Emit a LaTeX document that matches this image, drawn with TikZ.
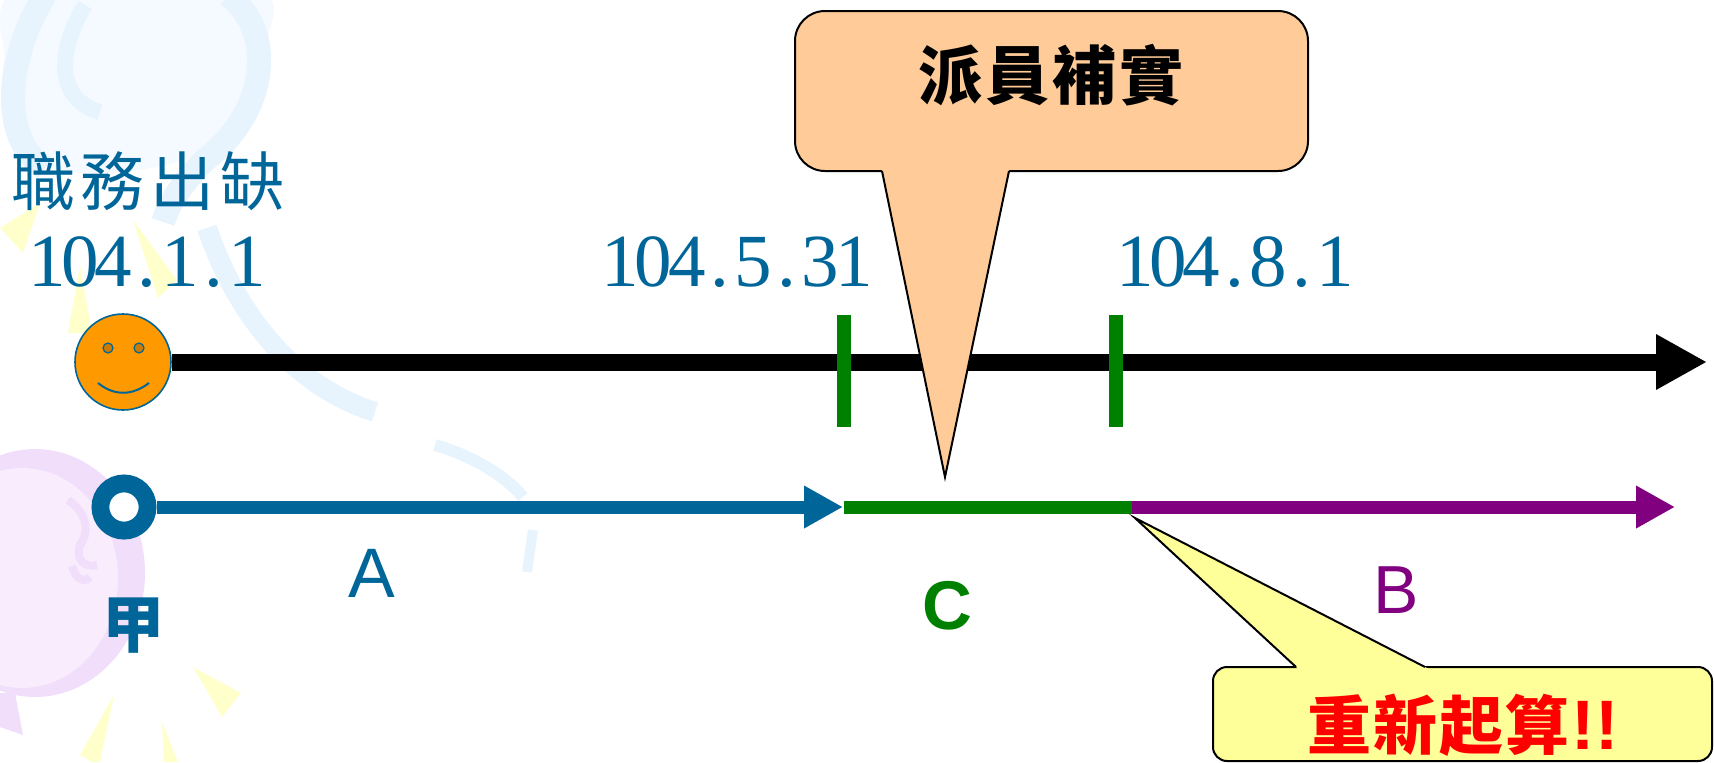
\documentclass[tikz,border=0pt]{standalone}
\usepackage{fontspec}
\setmainfont{Liberation Serif}
\newfontfamily\cjkfont{Noto Sans CJK TC}
\newfontfamily\latinsans{Liberation Sans}
\usetikzlibrary{arrows.meta}

\definecolor{dateblue}{RGB}{0,102,153}
\definecolor{tickgreen}{RGB}{0,128,0}
\definecolor{spanpurple}{RGB}{128,0,128}
\definecolor{smileorange}{RGB}{255,153,0}
\definecolor{eyeorange}{RGB}{204,122,0}
\definecolor{peach}{RGB}{255,204,153}
\definecolor{noteyellow}{RGB}{255,255,153}
\definecolor{bandblue}{RGB}{232,244,253}
\definecolor{faintblue}{RGB}{244,250,255}
\definecolor{lavender}{RGB}{241,222,251}
\definecolor{palelavender}{RGB}{248,236,253}
\definecolor{paleyellow}{RGB}{255,255,204}

% each character of a date in a box of the same width
\newcommand\evenpitch[1]{\evenpitchloop#1\relax}
\def\evenpitchloop#1{\ifx\relax#1\else\makebox[16.7pt]{#1}\expandafter\evenpitchloop\fi}

\tikzset{
  datelabel/.style={font=\fontsize{37.5pt}{40pt}\selectfont, text=dateblue, inner sep=0},
  cjkbold/.style={font=\cjkfont\bfseries\fontsize{32pt}{36pt}\selectfont, inner sep=0},
  spanlabel/.style={font=\latinsans\fontsize{35pt}{38pt}\selectfont, inner sep=0},
  timeline/.style={line width=6.5pt},
  tickmark/.style={tickgreen, line width=7pt},
  smalltip/.style={-{Triangle[length=19.5pt,width=20pt]}},
  bigtip/.style={-{Triangle[length=25.5pt,width=26pt]}},
  callout/.style={draw=black, line width=1pt},
}

\begin{document}
\begin{tikzpicture}[x=0.5pt, y=-0.5pt]
\useasboundingbox (0,0) rectangle (1714,762);

% ---- decorative background ----
\fill[faintblue] plot[smooth cycle] coordinates {(20,-10) (4,60) (3,115) (25,155) (70,172) (140,170) (210,150) (250,105) (266,45) (255,-10)};
\draw[bandblue, line width=12pt] (45,-5) .. controls (5,60) and (0,140) .. (45,168);
\draw[bandblue, line width=8pt] (85,5) .. controls (55,55) and (58,100) .. (100,112);
\draw[bandblue, line width=12pt] (228,-5) .. controls (275,30) and (270,110) .. (205,160) .. controls (185,180) and (170,200) .. (163,222);
\draw[bandblue, line width=10pt] (207,228) .. controls (235,310) and (290,385) .. (375,412);
\draw[bandblue, line width=6pt] (435,445) .. controls (470,455) and (505,475) .. (523,497);
\draw[bandblue, line width=5pt] (533,530) -- (527,572);

\fill[lavender] (35,573) ellipse [x radius=55pt, y radius=62pt];
\fill[palelavender] (22,578) ellipse [x radius=48pt, y radius=55pt];
\draw[lavender, line width=4pt] (68,500) .. controls (90,515) and (88,535) .. (80,545) .. controls (75,560) and (85,568) .. (97,565);
\draw[lavender, line width=4pt] (72,566) .. controls (76,580) and (85,583) .. (90,577);
\fill[lavender] (0,693) -- (15,693) -- (23,735) -- (0,727) -- cycle;

\fill[paleyellow] (0,228) -- (40,203) -- (23,253) -- cycle;
\fill[paleyellow] (133,220) -- (177,280) -- (158,298) -- cycle;
\fill[paleyellow] (80,265) -- (68,333) -- (92,333) -- cycle;
\fill[paleyellow] (193,667) -- (241,693) -- (222,717) -- cycle;
\fill[paleyellow] (114,695) -- (80,755) -- (92,762) -- (100,762) -- cycle;
\fill[paleyellow] (162,722) -- (164,762) -- (178,762) -- cycle;

% ---- titles and dates ----
\node[font=\cjkfont\fontsize{32pt}{36pt}\selectfont, text=dateblue, inner sep=0] (vacancy) at (148,181) {職\kern3pt 務\kern3pt 出\kern3pt 缺};
\node[datelabel] (d1) at (147,262) {\evenpitch{104.1.1}};
\node[datelabel] (d2) at (737,262) {\evenpitch{104.5.31}};
\node[datelabel] (d3) at (1235,262) {\evenpitch{104.8.1}};

% ---- upper time axis ----
\node[circle, minimum size=48pt, inner sep=0, fill=smileorange, draw=dateblue, line width=0.8pt] (smiley) at (123,362) {};
\coordinate (axisend) at (1707,362);
\draw[line width=8.5pt, bigtip] (smiley.east) -- (axisend);
\node[circle, minimum size=5pt, inner sep=0, fill=eyeorange, draw=dateblue, line width=0.6pt] (eyeL) at (108,348) {};
\node[circle, minimum size=5pt, inner sep=0, fill=eyeorange, draw=dateblue, line width=0.6pt] (eyeR) at (139,348) {};
\draw[dateblue, line width=1pt] (98,383) .. controls (114,396) and (132,396) .. (149,383);

\draw[tickmark] (844,315) -- (844,427);
\draw[tickmark] (1116,315) -- (1116,427);

% ---- lower span line ----
\node[circle, minimum size=23.6pt, inner sep=0, fill=white, draw=dateblue, line width=8.9pt] (start) at (124,507) {};
\coordinate (endA) at (843,507);
\coordinate (startC) at (844,507);
\coordinate (endC) at (1132,507);
\coordinate (endB) at (1675,507);
\draw[timeline, dateblue, smalltip] (start.east) -- (endA);
\draw[timeline, tickgreen] (startC) -- (endC);
\draw[timeline, spanpurple, smalltip] (endC) -- (endB);

\node[cjkbold, text=dateblue, font=\cjkfont\bfseries\fontsize{31pt}{34pt}\selectfont] (jia) at (133,626) {甲};
\node[spanlabel, text=dateblue] (labA) at (372,573) {A};
\node[spanlabel, text=tickgreen, font=\latinsans\bfseries\fontsize{34.5pt}{38pt}\selectfont] (labC) at (947,606) {C};
\node[spanlabel, text=spanpurple, font=\latinsans\fontsize{34pt}{38pt}\selectfont] (labB) at (1396,590) {B};

% ---- callout: appointment ----
\draw[callout, fill=peach, rounded corners=15pt] (795,11) rectangle (1308,171);
\fill[peach] (881.6,169) -- (945,477) -- (1009.4,169) -- cycle;
\draw[callout] (882,171) -- (945,477) -- (1009,171);
\node[cjkbold, text=black] (dispatch) at (1051,75) {派\kern1.5pt 員\kern1.5pt 補\kern1.5pt 實};

% ---- callout: restart ----
\draw[callout, fill=noteyellow, rounded corners=7pt] (1213,667) rectangle (1712,761);
\fill[noteyellow] (1298.2,669) -- (1135,518) -- (1428.9,669) -- cycle;
\draw[callout] (1296,667) -- (1135,518) -- (1425,667);
\node[cjkbold, text=red, anchor=base west] (restart) at (1307,749) {重\kern1pt 新\kern1pt 起\kern1pt 算\kern1pt{\latinsans\bfseries\fontsize{35pt}{38pt}\selectfont !\kern0.5pt!}};
\end{tikzpicture}
\end{document}
